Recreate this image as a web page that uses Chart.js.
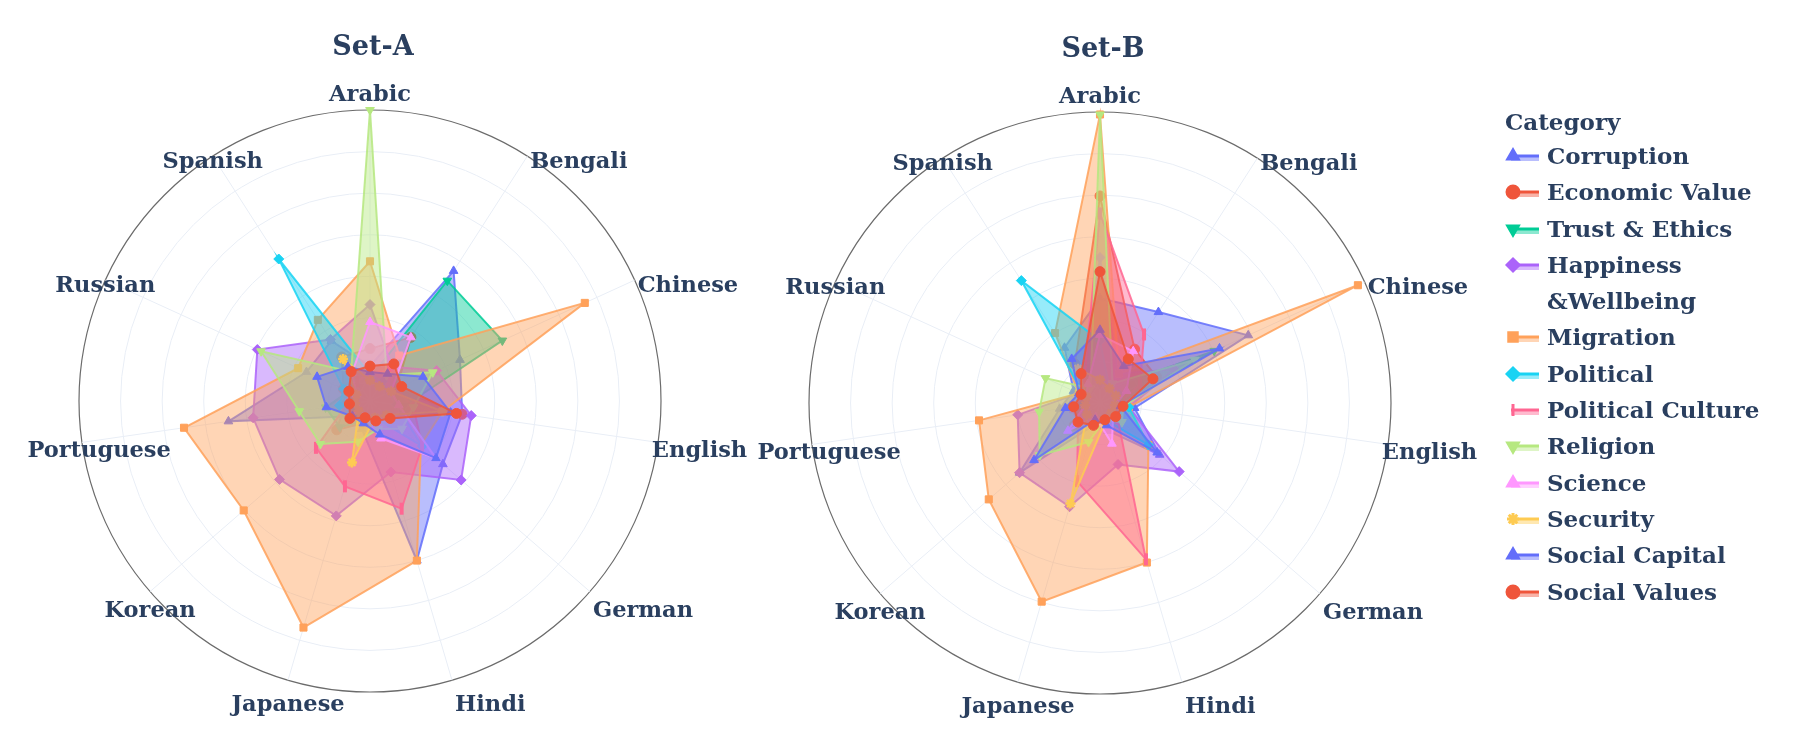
<!DOCTYPE html>
<html>
<head>
<meta charset="utf-8">
<script src="https://cdn.jsdelivr.net/npm/chart.js@4.4.1/dist/chart.umd.min.js"></script>
<style>
  body { margin: 0; background: #fff; width: 1800px; height: 743px; overflow: hidden; position: relative; }
  .panel { position: absolute; top: 0; height: 743px; }
  #panelA { left: 0; width: 800px; }
  #panelB { left: 740px; width: 800px; }
  #legend { position: absolute; left: 1505px; top: 106px; color: #2a3f5f; font: bold 23px "DejaVu Serif", serif; }
  #legend .head { height: 32px; line-height: 32px; }
  #legend .item { display: flex; align-items: flex-start; line-height: 36.3px; }
  #legend canvas { margin-top: 8px; margin-right: 6px; flex: none; }
</style>
</head>
<body>
<div class="panel" id="panelA"><canvas id="chartA"></canvas></div>
<div class="panel" id="panelB"><canvas id="chartB"></canvas></div>
<div id="legend"><div class="head">Category</div></div>

<script>
// languages round the dial, clockwise from the top
const languages = ["Arabic", "Bengali", "Chinese", "English", "German", "Hindi",
  "Japanese", "Korean", "Portuguese", "Russian", "Spanish"];

const categoryNames = ["Corruption", "Economic Value", "Trust & Ethics", "Happiness &Wellbeing",
  "Migration", "Political", "Political Culture", "Religion", "Science", "Security",
  "Social Capital", "Social Values"];

const categoryColors = ["#636efa", "#ef553b", "#00cc96", "#ab63fa", "#ffa15a", "#19d3f3",
  "#ff6692", "#b6e880", "#ff97ff", "#fecb52", "#636efa", "#ef553b"];

// radial axis: 0..35, rings every 5
const radialMax = 35;
const radialStep = 5;

// Set-A values
const corruptionA        = [4.2, 18.6, 11.9, 11.2, 11.6, 20.0, 3.5, 2.8, 17.2, 8.4, 8.6];
const economicValueA     = [6.3, 9.1, 3.5, 11.2, 2.5, 2.2, 2.8, 5.3, 3.0, 3.5, 6.3];
const trustEthicsA       = [2.8, 17.2, 17.5, 4.2, 3.5, 2.1, 2.5, 4.8, 5.4, 2.8, 2.1];
const happinessA         = [11.6, 4.9, 8.8, 12.3, 14.5, 8.9, 14.4, 14.4, 14.2, 14.9, 8.8];
const migrationA         = [16.8, 6.5, 28.4, 8.8, 8.1, 20.0, 28.4, 20.1, 22.6, 9.5, 11.6];
const politicalA         = [3.2, 2.8, 2.5, 3.2, 8.3, 2.1, 2.1, 2.5, 3.7, 3.5, 20.3];
const politicalCultureA  = [3.5, 4.2, 3.5, 5.3, 8.3, 13.5, 10.7, 8.6, 2.8, 2.8, 2.8];
const religionA          = [35.0, 3.7, 8.3, 5.3, 5.1, 3.5, 5.1, 7.9, 8.6, 14.4, 4.2];
const scienceA           = [9.5, 9.1, 2.8, 3.5, 10.5, 4.7, 2.1, 1.8, 1.8, 1.8, 4.0];
const securityA          = [2.5, 2.1, 2.8, 8.8, 2.6, 2.1, 7.7, 1.8, 1.8, 1.8, 6.0];
const socialCapitalA     = [3.5, 3.9, 7.0, 9.8, 10.5, 4.2, 2.8, 2.8, 5.3, 7.0, 4.9];
const socialValuesA      = [4.2, 5.3, 4.2, 10.5, 3.2, 2.5, 2.1, 3.2, 2.5, 2.8, 4.2];

// Set-B values
const corruptionB        = [12.6, 13.0, 19.6, 4.2, 9.5, 3.5, 2.8, 12.8, 4.9, 3.5, 7.9];
const economicValueB     = [24.9, 7.7, 7.5, 2.1, 2.8, 1.8, 2.3, 4.1, 2.5, 2.1, 5.6];
const trustEthicsB       = [2.1, 2.1, 15.1, 1.8, 2.1, 1.8, 1.8, 1.8, 1.8, 1.8, 1.8];
const happinessB         = [17.5, 4.2, 9.8, 3.5, 12.6, 7.7, 13.0, 12.8, 10.0, 2.8, 4.2];
const migrationB         = [34.7, 4.2, 34.1, 3.5, 7.7, 20.0, 24.9, 17.7, 14.7, 2.8, 10.0];
const politicalB         = [7.5, 2.1, 2.5, 3.5, 7.7, 2.1, 1.8, 2.1, 2.1, 2.1, 17.5];
const politicalCultureB  = [22.8, 9.8, 5.3, 2.1, 2.8, 19.6, 9.8, 3.5, 3.5, 2.1, 3.5];
const religionB          = [34.7, 2.8, 12.5, 2.8, 3.5, 2.1, 4.9, 9.6, 7.4, 7.2, 2.1];
const scienceB           = [8.2, 7.4, 3.5, 1.8, 2.1, 5.1, 1.8, 5.1, 1.8, 1.8, 2.7];
const securityB          = [2.8, 2.1, 2.1, 1.8, 1.8, 2.3, 12.6, 2.1, 1.8, 1.8, 4.9];
const socialCapitalB     = [8.8, 5.3, 15.8, 2.5, 9.1, 2.8, 2.1, 10.5, 4.2, 2.8, 6.3];
const socialValuesB      = [15.8, 6.3, 7.0, 2.8, 2.5, 2.1, 2.8, 3.5, 3.2, 2.5, 4.2];

const seriesA = [corruptionA, economicValueA, trustEthicsA, happinessA, migrationA, politicalA,
  politicalCultureA, religionA, scienceA, securityA, socialCapitalA, socialValuesA];
const seriesB = [corruptionB, economicValueB, trustEthicsB, happinessB, migrationB, politicalB,
  politicalCultureB, religionB, scienceB, securityB, socialCapitalB, socialValuesB];

// marker per category (plotly-ish symbols)
const markers = [
  { style: "triangle", rot: 0 },
  { style: "circle", rot: 0 },
  { style: "triangle", rot: 180 },
  { style: "rectRot", rot: 0 },
  { style: "rect", rot: 0 },
  { style: "rectRot", rot: 0 },
  { style: "line", rot: 90, bw: 4 },
  { style: "triangle", rot: 180 },
  { style: "triangle", rot: 240 },
  { style: "star", rot: 0, bw: 2.5 },
  { style: "triangle", rot: 0 },
  { style: "circle", rot: 0 }
];

const TEXT = "#2a3f5f";
const FONT = '"DejaVu Serif", serif';

function alpha(hex, a) {
  const n = parseInt(hex.slice(1), 16);
  return `rgba(${n >> 16}, ${(n >> 8) & 255}, ${n & 255}, ${a})`;
}

// draws the language names and the panel title from the scale's own geometry
const dialText = {
  id: "dialText",
  afterDraw(chart, args, opts) {
    const s = chart.scales.r;
    const ctx = chart.ctx;
    const R = s.drawingArea;
    ctx.save();
    ctx.fillStyle = TEXT;
    ctx.font = `bold 22.5px ${FONT}`;
    ctx.textBaseline = "middle";
    s.getLabels().forEach((lab, i) => {
      const a = s.getIndexAngle(i);
      const sn = Math.sin(a), cs = Math.cos(a);
      const p = s.getPointPosition(i, R);
      let x = p.x, y = p.y;
      if (cs > 0.95) {
        ctx.textAlign = "center";
        y -= 15;
      } else if (sn > 0) {
        ctx.textAlign = "left";
        x += 3 - 16 * Math.max(0, 1 - Math.abs(cs) * 3);
        y += 6 + 20 * Math.max(0, -cs);
      } else {
        ctx.textAlign = "center";
        x += 30 * Math.max(0, 1 - Math.abs(cs) * 3);
        y += 6 + 20 * Math.max(0, -cs);
      }
      ctx.fillText(lab, x, y);
    });
    ctx.font = `bold 27px ${FONT}`;
    ctx.textAlign = "center";
    ctx.fillText(opts.title, s.xCenter + 3, s.yCenter - R - 62);
    ctx.restore();
  }
};

function makeChart(id, series, title, pad) {
  const datasets = series.map((vals, k) => ({
    label: categoryNames[k],
    data: vals,
    borderColor: alpha(categoryColors[k], 0.85),
    backgroundColor: alpha(categoryColors[k], 0.45),
    borderWidth: 2,
    fill: true,
    pointStyle: markers[k].style,
    pointRotation: markers[k].rot,
    pointRadius: markers[k].style === "line" ? 6 : 5,
    pointBackgroundColor: categoryColors[k],
    pointBorderColor: categoryColors[k],
    pointBorderWidth: markers[k].bw || 1,
    order: -k
  }));
  const canvas = document.getElementById(id);
  return new Chart(canvas, {
    type: "radar",
    data: { labels: languages, datasets },
    options: {
      responsive: true,
      maintainAspectRatio: false,
      animation: false,
      layout: { padding: pad },
      plugins: {
        legend: { display: false },
        tooltip: { enabled: false },
        dialText: { title }
      },
      elements: { line: { tension: 0 } },
      scales: {
        r: {
          min: 0,
          max: radialMax,
          ticks: { display: false, stepSize: radialStep },
          pointLabels: { display: false },
          angleLines: { color: "#e9eef6", lineWidth: 1 },
          grid: {
            circular: true,
            color: (c) => (c.index === c.chart.scales.r.ticks.length - 1 ? "#6b6b6b" : "#e9eef6"),
            lineWidth: (c) => (c.index === c.chart.scales.r.ticks.length - 1 ? 1.2 : 1)
          }
        }
      }
    },
    plugins: [dialText]
  });
}

makeChart("chartA", seriesA, "Set-A", { left: 79, right: 139, top: 110, bottom: 51 });
makeChart("chartB", seriesB, "Set-B", { left: 69, right: 149, top: 112, bottom: 49 });

// legend: line + marker swatch for each category
const legend = document.getElementById("legend");
categoryNames.forEach((name, k) => {
  const row = document.createElement("div");
  row.className = "item";
  const c = document.createElement("canvas");
  c.width = 36; c.height = 20;
  c.style.width = "36px"; c.style.height = "20px";
  const g = c.getContext("2d");
  g.fillStyle = alpha(categoryColors[k], 0.45);
  g.fillRect(6, 10, 28, 5);
  g.strokeStyle = categoryColors[k];
  g.lineWidth = 3;
  g.beginPath(); g.moveTo(6, 10); g.lineTo(34, 10); g.stroke();
  g.fillStyle = categoryColors[k];
  Chart.helpers.drawPoint(g, {
    pointStyle: markers[k].style,
    rotation: markers[k].rot,
    radius: 6,
    borderWidth: markers[k].bw || 1
  }, 8, 10);
  const t = document.createElement("div");
  if (name === "Happiness &Wellbeing") {
    t.innerHTML = "Happiness<br>&amp;Wellbeing";
  } else {
    t.textContent = name;
  }
  row.appendChild(c);
  row.appendChild(t);
  legend.appendChild(row);
});
</script>
</body>
</html>
